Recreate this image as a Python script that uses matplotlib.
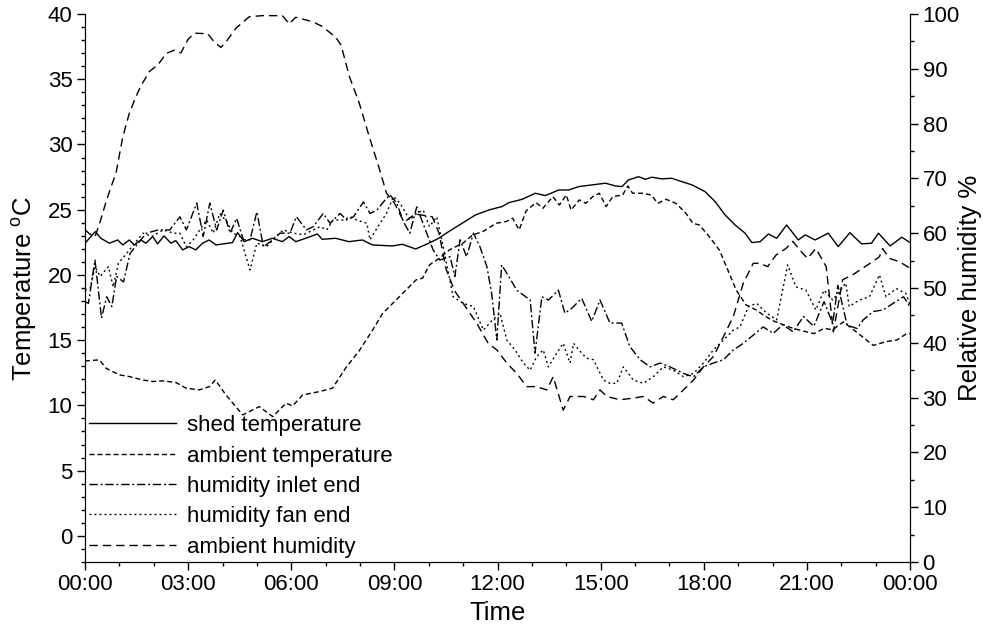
#import numpy and matplotlib modules
import numpy as np
import matplotlib.pyplot as plt
from matplotlib.ticker import MultipleLocator

plt.rcParams['font.family'] = ['Liberation Sans', 'DejaVu Sans']
plt.rcParams['mathtext.fontset'] = 'custom'
plt.rcParams['mathtext.rm'] = 'Liberation Sans'

# time of day in hours
shed_h = [0.0, 0.30, 0.46, 0.71, 0.95, 1.10, 1.29, 1.43, 1.63, 1.77, 1.97, 2.11, 2.30, 2.50, 2.64,
          2.84, 3.03, 3.22, 3.42, 3.61, 3.81, 4.29, 4.44, 4.63, 4.87, 5.16, 5.45, 5.74, 5.94, 6.13,
          6.42, 6.76, 6.90, 7.29, 7.68, 8.07, 8.36, 8.94, 9.23, 9.62, 10.00, 10.29, 10.58, 10.97, 11.36,
          11.75, 12.13, 12.33, 12.72, 13.10, 13.39, 13.78, 14.07, 14.36, 14.75, 15.14, 15.43, 15.62, 15.81, 16.10,
          16.30, 16.49, 16.78, 17.07, 17.36, 17.66, 18.04, 18.33, 18.62, 18.91, 19.20, 19.40, 19.64, 19.88, 20.12,
          20.41, 20.75, 20.95, 21.24, 21.62, 21.91, 22.25, 22.59, 22.88, 23.08, 23.42, 23.76, 24.0]
shed_temp = [22.43, 23.32, 22.81, 22.43, 22.68, 22.30, 22.68, 22.30, 22.68, 22.43, 22.94, 22.38, 22.99, 22.43, 22.63,
             21.92, 22.17, 21.92, 22.43, 22.68, 22.30, 22.48, 23.24, 22.55, 22.81, 22.55, 22.81, 22.55, 22.94, 22.55,
             22.81, 23.14, 22.73, 22.81, 22.55, 22.68, 22.30, 22.22, 22.35, 21.99, 22.43, 22.81, 23.32, 23.96, 24.60,
             24.98, 25.24, 25.54, 25.80, 26.26, 26.08, 26.51, 26.51, 26.77, 26.90, 27.03, 26.82, 26.77, 27.28, 27.53,
             27.33, 27.49, 27.36, 27.41, 27.15, 26.90, 26.38, 25.62, 24.60, 23.83, 23.20, 22.48, 22.55, 23.14, 22.81,
             23.83, 22.68, 23.07, 22.68, 23.20, 22.17, 23.24, 22.38, 22.43, 23.20, 22.22, 22.89, 22.48]

amb_temp_h = [0.0, 0.42, 0.61, 1.00, 1.29, 1.68, 1.97, 2.26, 2.65, 2.94, 3.33, 3.62, 3.79, 4.10, 4.59,
              5.07, 5.46, 5.85, 6.04, 6.33, 6.82, 7.20, 7.59, 7.98, 8.37, 8.66, 9.05, 9.34, 9.63, 9.82,
              10.02, 10.31, 10.60, 10.99, 11.28, 11.57, 11.96, 12.25, 12.44, 12.63, 12.83, 13.12, 13.32, 13.61, 13.80,
              14.00, 14.14, 14.38, 14.57, 14.77, 14.96, 15.16, 15.35, 15.64, 15.79, 15.93, 16.22, 16.47, 16.66, 16.90,
              17.19, 17.48, 17.68, 17.87, 18.16, 18.45, 18.74, 18.94, 19.23, 19.52, 19.75, 20.0, 20.3, 20.6, 20.9,
              21.2, 21.5, 21.75, 22.06, 22.45, 22.93, 23.32, 23.61, 23.9, 24.0]
amb_temp = [13.41, 13.49, 12.85, 12.34, 12.21, 11.95, 11.83, 11.88, 11.75, 11.32, 11.19, 11.44, 11.95, 10.80, 9.27,
            9.91, 9.14, 10.17, 9.96, 10.80, 11.06, 11.32, 12.90, 14.2, 15.79, 17.06, 18.08, 18.85, 19.62, 19.75,
            20.77, 21.28, 21.92, 22.43, 23.07, 23.32, 23.96, 24.09, 24.35, 23.45, 24.9, 25.55, 25.11, 26.0, 25.36,
            26.13, 24.98, 25.75, 25.49, 26.0, 26.26, 25.24, 26.0, 26.13, 26.82, 26.26, 26.26, 26.13, 25.49, 25.8,
            25.49, 24.73, 23.96, 23.83, 22.94, 21.92, 20.13, 18.85, 17.7, 17.32, 16.9, 16.5, 16.2, 15.9, 15.7,
            15.5, 15.9, 15.8, 16.4, 15.6, 14.6, 14.9, 15.0, 15.5, 15.5]

inlet_h = [0.0, 0.10, 0.29, 0.48, 0.63, 0.78, 0.92, 1.12, 1.31, 1.60, 1.79, 2.13, 2.47, 2.76, 2.95,
           3.25, 3.44, 3.63, 3.83, 4.02, 4.22, 4.41, 4.61, 4.80, 5.00, 5.19, 5.38, 5.67, 5.96, 6.15,
           6.44, 6.64, 6.93, 7.13, 7.42, 7.61, 7.81, 8.10, 8.29, 8.49, 8.68, 8.87, 9.07, 9.26, 9.45,
           9.65, 9.94, 10.13, 10.32, 10.62, 10.76, 10.91, 11.10, 11.30, 11.49, 11.69, 11.83, 11.98, 12.12, 12.27,
           12.56, 12.95, 13.09, 13.29, 13.48, 13.77, 13.96, 14.16, 14.45, 14.74, 14.98, 15.27, 15.61, 15.85, 16.15,
           16.44, 16.73, 17.02, 17.41, 17.70, 17.99, 18.28, 18.57, 18.86, 19.15, 19.44, 19.73, 20.02, 20.30, 20.60,
           20.90, 21.20, 21.50, 21.75, 21.90, 22.17, 22.46, 22.64, 22.93, 23.22, 23.51, 23.81, 24.0]
inlet_rh = [47.5, 47.2, 55.1, 44.5, 48.4, 46.6, 52.1, 51.1, 56.3, 58.6, 60.0, 60.6, 60.6, 63.0, 60.6,
            65.5, 59.4, 65.5, 60.6, 64.2, 60.0, 62.7, 58.8, 58.8, 63.9, 57.5, 58.4, 60.0, 60.0, 63.0,
            60.6, 61.2, 63.6, 61.8, 63.6, 62.4, 63.0, 65.7, 63.6, 64.2, 65.7, 67.0, 65.5, 62.1, 60.0,
            64.8, 60.0, 56.9, 55.1, 55.7, 52.1, 58.8, 55.7, 60.0, 57.5, 53.9, 49.0, 40.5, 54.2, 52.7,
            49.6, 47.8, 38.1, 48.4, 47.8, 49.6, 45.4, 46.3, 48.1, 43.9, 47.8, 43.6, 43.6, 39.3, 36.9,
            35.6, 36.3, 35.6, 34.4, 33.8, 35.6, 36.3, 36.9, 38.7, 39.9, 41.4, 42.9, 41.7, 43.3, 42.0,
            44.8, 43.0, 47.5, 43.5, 50.5, 43.2, 42.6, 44.2, 45.7, 46.0, 47.2, 48.4, 46.6]

fan_h = [0.0, 0.15, 0.29, 0.44, 0.68, 0.82, 0.97, 1.21, 1.45, 1.69, 1.94, 2.28, 2.57, 2.76, 2.95,
         3.15, 3.34, 3.54, 3.73, 3.92, 4.12, 4.31, 4.51, 4.80, 5.00, 5.28, 5.47, 5.77, 6.06, 6.35,
         6.64, 6.84, 7.03, 7.22, 7.51, 7.71, 7.90, 8.20, 8.29, 8.58, 8.77, 8.97, 9.16, 9.45, 9.65,
         9.84, 10.02, 10.23, 10.42, 10.71, 11.00, 11.30, 11.59, 11.83, 12.07, 12.27, 12.51, 12.75, 12.95, 13.14,
         13.33, 13.48, 13.72, 13.91, 14.11, 14.21, 14.45, 14.59, 14.79, 15.08, 15.27, 15.47, 15.66, 15.95, 16.24,
         16.53, 16.82, 17.11, 17.41, 17.70, 17.99, 18.28, 18.57, 18.86, 19.05, 19.30, 19.54, 19.83, 20.12, 20.44,
         20.68, 20.97, 21.26, 21.50, 21.75, 22.13, 22.23, 22.52, 22.82, 23.11, 23.30, 23.60, 23.88, 24.0]
fan_rh = [49.6, 49.9, 53.9, 52.1, 53.9, 50.2, 54.5, 56.3, 58.2, 60.0, 59.4, 60.6, 60.0, 60.0, 57.5,
          58.8, 60.6, 62.4, 60.0, 63.6, 62.1, 60.0, 59.4, 53.3, 58.2, 57.5, 58.8, 60.6, 60.0, 59.7,
          60.6, 61.2, 60.6, 62.4, 62.4, 63.0, 62.4, 61.8, 58.8, 61.8, 63.6, 66.7, 65.5, 62.4, 63.6,
          64.2, 61.2, 63.0, 57.5, 48.4, 47.2, 46.6, 42.3, 44.0, 45.4, 40.5, 38.7, 36.3, 35.0, 37.5,
          38.7, 35.6, 38.1, 39.9, 36.3, 39.9, 38.1, 37.2, 36.9, 33.2, 32.6, 32.6, 35.6, 33.2, 32.6,
          33.8, 35.6, 35.0, 33.8, 34.4, 36.3, 38.7, 40.5, 42.3, 42.9, 46.6, 47.2, 45.4, 44.2, 54.2,
          50.2, 49.6, 46.0, 49.6, 47.8, 50.9, 46.6, 47.8, 48.4, 52.4, 48.4, 49.9, 49.0, 46.9]

amb_rh_h = [0.0, 0.15, 0.29, 0.44, 0.63, 0.76, 0.90, 1.10, 1.29, 1.48, 1.63, 1.87, 2.12, 2.36, 2.60,
            2.79, 2.99, 3.18, 3.57, 3.76, 3.95, 4.10, 4.39, 4.78, 5.16, 5.74, 5.94, 6.13, 6.62, 6.91,
            7.30, 7.45, 7.69, 7.98, 8.27, 8.56, 8.77, 9.00, 9.28, 9.60, 10.10, 10.30, 10.50, 10.75, 11.00,
            11.39, 11.73, 11.98, 12.27, 12.56, 12.85, 13.14, 13.43, 13.62, 13.91, 14.11, 14.50, 14.79, 14.98, 15.18,
            15.56, 15.95, 16.24, 16.53, 16.82, 17.11, 17.41, 17.70, 17.99, 18.28, 18.57, 18.86, 19.15, 19.44, 19.62,
            19.86, 20.10, 20.39, 20.59, 20.88, 21.02, 21.26, 21.56, 21.77, 22.04, 22.33, 22.62, 22.91, 23.11, 23.20,
            23.40, 23.69, 24.0]
amb_rh = [60.6, 59.8, 59.3, 62.1, 66.1, 68.5, 70.9, 77.6, 81.9, 84.9, 86.9, 89.5, 90.7, 92.8, 93.4,
          92.9, 95.3, 96.5, 96.4, 94.9, 93.9, 94.9, 97.4, 99.5, 99.7, 99.7, 98.2, 99.4, 98.6, 97.7,
          95.7, 94.3, 88.6, 83.7, 77.6, 71.8, 67.3, 65.5, 62.0, 63.5, 63.0, 60.0, 53.5, 49.5, 47.2,
          43.6, 39.9, 38.7, 36.3, 34.4, 32.0, 32.0, 31.4, 33.8, 27.7, 30.2, 30.2, 29.6, 31.4, 30.2,
          29.6, 29.9, 30.2, 29.0, 30.2, 29.6, 31.4, 33.2, 35.6, 37.5, 41.1, 44.8, 50.9, 54.5, 54.5,
          53.9, 56.0, 57.2, 58.5, 56.3, 55.4, 57.2, 53.9, 42.0, 51.5, 52.4, 53.6, 54.8, 55.7, 57.2,
          55.4, 54.8, 53.6]

x_ticks = [0, 3, 6, 9, 12, 15, 18, 21, 24]
x_labels = ["00:00", "03:00", "06:00", "09:00", "12:00", "15:00", "18:00", "21:00", "00:00"]

fig = plt.figure(figsize=(9.85, 6.36), dpi=100)
ax = fig.add_axes([0.0863, 0.1164, 0.8376, 0.8616])
ax2 = ax.twinx()

lw = 1.0
l1, = ax.plot(shed_h, shed_temp, color="k", lw=lw, ls="-", label="shed temperature")
l2, = ax.plot(amb_temp_h, amb_temp, color="k", lw=lw, ls=(0, (3.6, 2.2)), label="ambient temperature")
l3, = ax2.plot(inlet_h, inlet_rh, color="k", lw=lw, ls=(0, (6, 2, 1.4, 2)), label="humidity inlet end")
l4, = ax2.plot(fan_h, fan_rh, color="k", lw=lw, ls=(0, (1.4, 2.2)), label="humidity fan end")
l5, = ax2.plot(amb_rh_h, amb_rh, color="k", lw=lw, ls=(0, (6, 3.6)), label="ambient humidity")

# axes ranges and ticks
ax.set_xlim(0, 24)
ax.set_ylim(-2, 40)
ax2.set_ylim(0, 100)
ax.set_xticks(x_ticks)
ax.set_xticklabels(x_labels)
ax.xaxis.set_minor_locator(MultipleLocator(1))
ax.set_yticks(range(0, 41, 5))
ax.yaxis.set_minor_locator(MultipleLocator(1))
ax2.set_yticks(range(0, 101, 10))
ax2.yaxis.set_minor_locator(MultipleLocator(5))

for a in (ax, ax2):
    a.spines["top"].set_visible(False)
    a.tick_params(which="major", direction="out", length=6, width=1, labelsize=16, pad=3)
    a.tick_params(which="minor", direction="out", length=3, width=1)

ax.set_xlabel("Time", fontsize=18.5, labelpad=4)
ax.set_ylabel("Temperature $^{\\mathrm{o}}$C", fontsize=18.5, labelpad=6)
ax2.set_ylabel("Relative humidity %", fontsize=18.5, labelpad=-1.5)

ax2.legend(handles=[l1, l2, l3, l4, l5], loc="lower left", frameon=False, fontsize=16,
           handlelength=3.9, handletextpad=0.5, labelspacing=0.42,
           borderpad=0.2, borderaxespad=0.0)

fig.savefig("out.png", dpi=100)
